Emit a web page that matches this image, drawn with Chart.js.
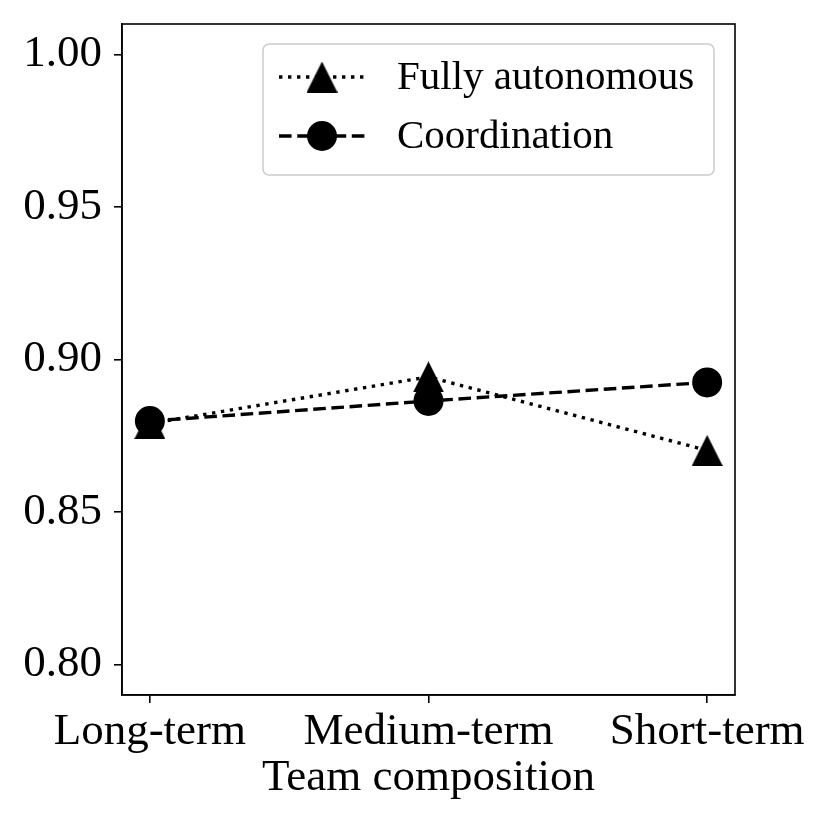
<!DOCTYPE html>
<html>
<head>
<meta charset="utf-8">
<script src="https://cdn.jsdelivr.net/npm/chart.js@4.4.0/dist/chart.umd.min.js"></script>
<style>
  html, body { margin: 0; padding: 0; background: #fff; }
  #wrap { width: 830px; height: 830px; }
</style>
</head>
<body>
<div id="wrap"><canvas id="c" width="830" height="830"></canvas></div>
<script>
// ---- data ----
const categories = ['Long-term', 'Medium-term', 'Short-term'];
const fullyAutonomous = [0.879, 0.8943, 0.8702];
const coordination = [0.8798, 0.8864, 0.8925];
const yTicks = [0.80, 0.85, 0.90, 0.95, 1.00];
const seriesNames = ['Fully autonomous', 'Coordination'];

const FONT = "'Liberation Serif', 'Times New Roman', serif";
const LW = 3.4;
const DOT = [3.4, 5.6];
const DASH = [12.6, 5.6];

// matplotlib-like triangle marker (width == height)
function triCanvas(size) {
  const c = document.createElement('canvas');
  c.width = size; c.height = size;
  const g = c.getContext('2d');
  g.fillStyle = '#000';
  g.beginPath();
  g.moveTo(size / 2, 0);
  g.lineTo(size, size);
  g.lineTo(0, size);
  g.closePath();
  g.fill();
  return c;
}
const tri = triCanvas(31);

const framePlugin = {
  id: 'frame',
  afterDatasetsDraw(chart) {
    const { ctx, chartArea: a } = chart;
    ctx.save();
    ctx.strokeStyle = '#000';
    ctx.lineWidth = 1.6;
    ctx.strokeRect(a.left, a.top, a.right - a.left, a.bottom - a.top);
    ctx.restore();
  }
};

const legendPlugin = {
  id: 'customLegend',
  afterDraw(chart) {
    const ctx = chart.ctx;
    ctx.save();
    const x = 263, y = 44, w = 451, h = 131, r = 6;
    ctx.beginPath();
    ctx.roundRect(x, y, w, h, r);
    ctx.fillStyle = 'rgba(255,255,255,0.8)';
    ctx.fill();
    ctx.strokeStyle = '#cccccc';
    ctx.lineWidth = 1.5;
    ctx.stroke();

    const rows = [77, 136];
    const dashes = [DOT, DASH];
    for (let i = 0; i < 2; i++) {
      const yy = rows[i];
      ctx.beginPath();
      ctx.setLineDash(dashes[i]);
      ctx.lineWidth = LW;
      ctx.strokeStyle = '#000';
      ctx.moveTo(279, yy);
      ctx.lineTo(365, yy);
      ctx.stroke();
      ctx.setLineDash([]);
      if (i === 0) {
        ctx.drawImage(tri, 322 - 15.5, yy - 15.5);
      } else {
        ctx.beginPath();
        ctx.arc(322, yy, 15, 0, Math.PI * 2);
        ctx.fillStyle = '#000';
        ctx.fill();
      }
      ctx.fillStyle = '#000';
      ctx.font = '41px ' + FONT;
      ctx.textBaseline = 'middle';
      ctx.textAlign = 'left';
      ctx.fillText(seriesNames[i], 397, yy + 1);
    }
    ctx.restore();
  }
};

new Chart(document.getElementById('c'), {
  type: 'line',
  data: {
    datasets: [
      {
        label: seriesNames[0],
        data: fullyAutonomous.map((v, i) => ({ x: i, y: v })),
        borderColor: '#000',
        backgroundColor: '#000',
        borderWidth: LW,
        borderDash: DOT,
        pointStyle: tri,
        pointRadius: 15.5,
        pointHoverRadius: 15.5,
        order: 2,
        fill: false
      },
      {
        label: seriesNames[1],
        data: coordination.map((v, i) => ({ x: i, y: v })),
        borderColor: '#000',
        backgroundColor: '#000',
        borderWidth: LW,
        borderDash: DASH,
        pointStyle: 'circle',
        pointRadius: 15,
        pointHoverRadius: 15,
        pointBorderWidth: 0,
        order: 1,
        fill: false
      }
    ]
  },
  options: {
    responsive: false,
    animation: false,
    devicePixelRatio: 1,
    layout: { padding: { left: 0, top: 24, right: 95, bottom: 0 } },
    plugins: { legend: { display: false }, tooltip: { enabled: false } },
    scales: {
      x: {
        type: 'linear',
        min: -0.1,
        max: 2.1,
        afterBuildTicks(scale) { scale.ticks = categories.map((c, i) => ({ value: i })); },
        ticks: {
          callback: (v) => categories[v],
          color: '#000',
          font: { family: FONT, size: 45 },
          padding: 2,
          maxRotation: 0,
          autoSkip: false
        },
        grid: { display: true, drawOnChartArea: false, drawTicks: true, tickLength: 8, color: '#000', lineWidth: 1.6 },
        border: { display: true, color: '#000', width: 1.6 },
        title: { display: true, text: 'Team composition', color: '#000', font: { family: FONT, size: 45 }, padding: { top: 0, bottom: 25 } },
        afterFit(scale) { scale.height = 135; scale.paddingLeft = 0; scale.paddingRight = 0; }
      },
      y: {
        type: 'linear',
        min: 0.79,
        max: 1.01,
        afterBuildTicks(scale) { scale.ticks = yTicks.map(v => ({ value: v })); },
        ticks: {
          callback: (v) => v.toFixed(2),
          color: '#000',
          font: { family: FONT, size: 45 },
          padding: 12
        },
        grid: { display: true, drawOnChartArea: false, drawTicks: true, tickLength: 8, color: '#000', lineWidth: 1.6 },
        border: { display: true, color: '#000', width: 1.6 },
        afterFit(scale) { scale.width = 122; scale.paddingTop = 0; scale.paddingBottom = 0; }
      }
    }
  },
  plugins: [framePlugin, legendPlugin]
});
</script>
</body>
</html>
